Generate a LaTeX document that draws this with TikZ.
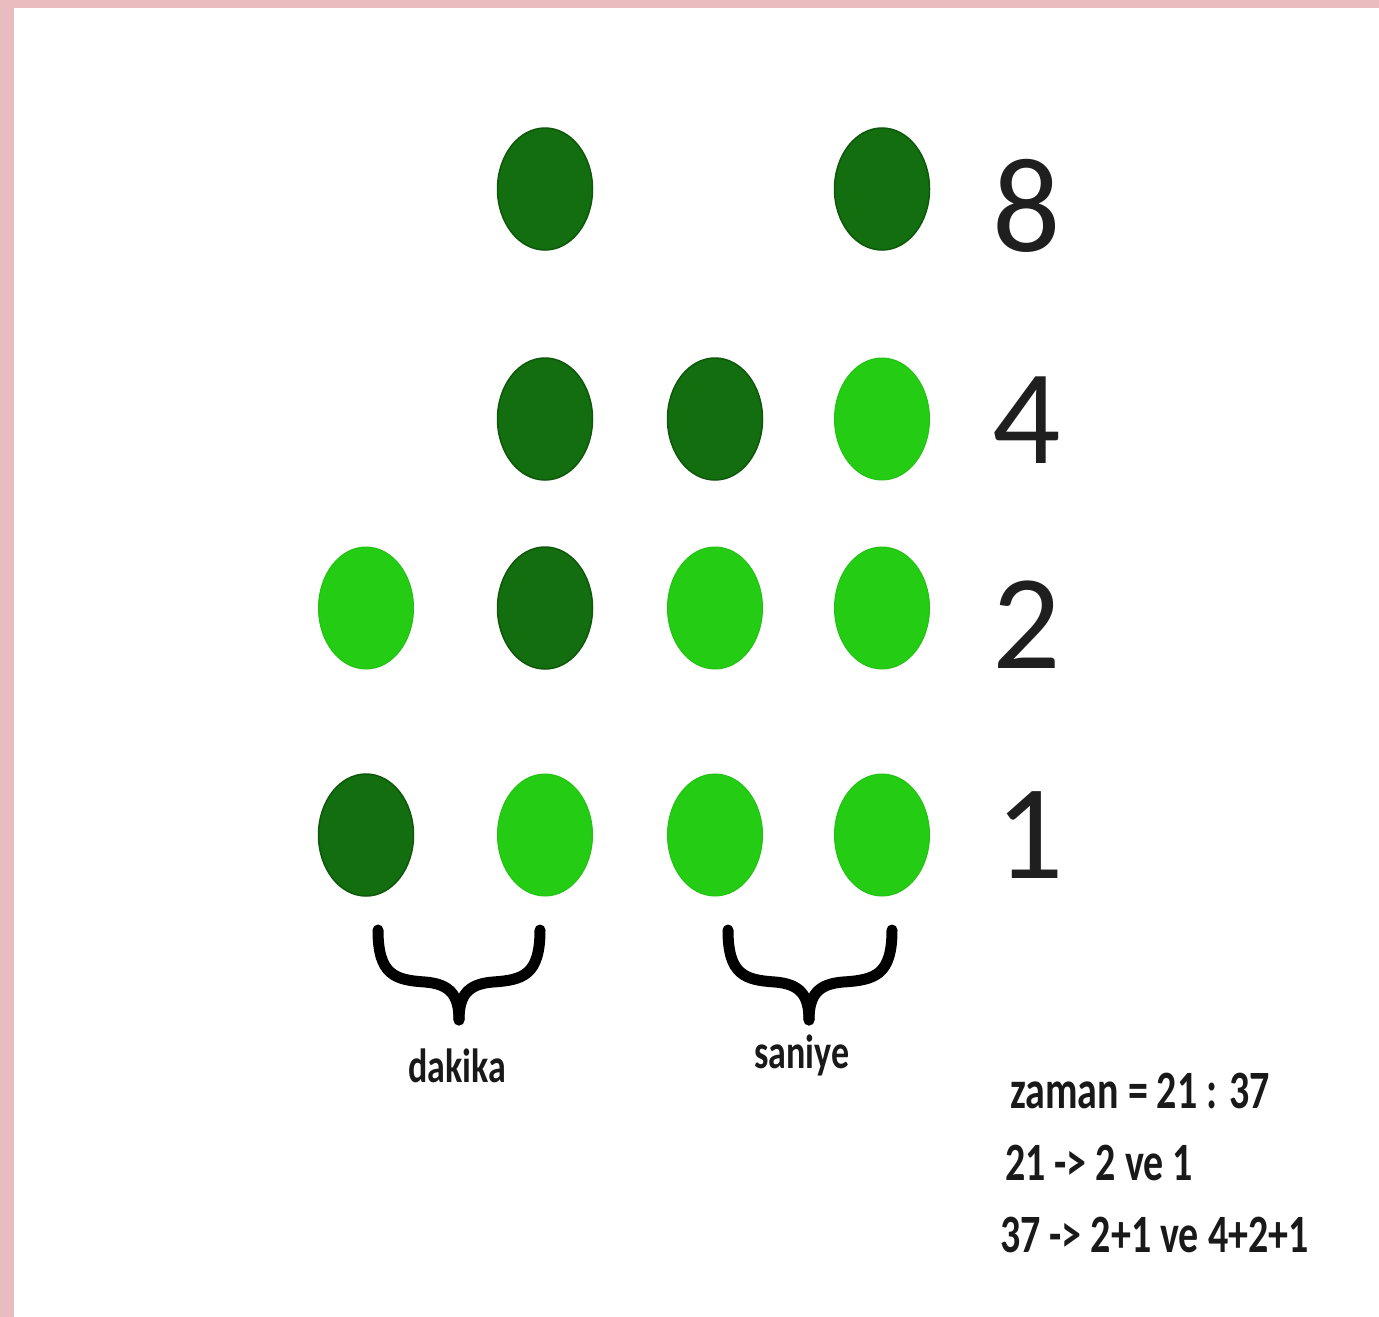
\documentclass[tikz,border=0pt]{standalone}
\usepackage{fontspec}
\setmainfont{Carlito}
\definecolor{pinkframe}{RGB}{233,188,192}
\definecolor{darkgreen}{RGB}{18,110,14}
\definecolor{lightgreen}{RGB}{36,204,20}
\tikzset{
  dot/.style={ellipse, minimum width=95pt, minimum height=122pt, inner sep=0pt},
  darkdot/.style={dot, fill=darkgreen, draw=darkgreen!80!black, line width=1.5pt},
  lightdot/.style={dot, fill=lightgreen, draw=lightgreen!95!black, line width=1pt},
  digit/.style={inner sep=0pt, font=\fontsize{135}{135}\selectfont, text=black!88},
  lbl/.style={inner sep=0pt, anchor=base, font=\bfseries\fontsize{48}{48}\selectfont, text=black!90},
  note/.style={inner sep=0pt, anchor=base west, font=\bfseries\fontsize{54}{54}\selectfont, text=black!90},
  bracestroke/.style={line width=11pt, line cap=round, line join=round, black}
}
\usetikzlibrary{shapes.geometric}
\begin{document}
\begin{tikzpicture}[x=1pt,y=1pt]
\useasboundingbox (0,0) rectangle (1379,-1317);
\fill[white] (0,0) rectangle (1379,-1317);
\fill[pinkframe] (0,0) rectangle (1379,-8);
\fill[pinkframe] (0,0) rectangle (14,-1317);
% row 8
\node[darkdot] (c82) at (545,-189) {};
\node[darkdot] (c84) at (882,-189) {};
% row 4
\node[darkdot] (c42) at (545,-419) {};
\node[darkdot] (c43) at (715,-419) {};
\node[lightdot] (c44) at (882,-419) {};
% row 2
\node[lightdot] (c21) at (366,-608) {};
\node[darkdot] (c22) at (545,-608) {};
\node[lightdot] (c23) at (715,-608) {};
\node[lightdot] (c24) at (882,-608) {};
% row 1
\node[darkdot] (c11) at (366,-835) {};
\node[lightdot] (c12) at (545,-835) {};
\node[lightdot] (c13) at (715,-835) {};
\node[lightdot] (c14) at (882,-835) {};
% digits
\node[digit] (d8) at (1027,-206) {8};
\node[digit] (d4) at (1027,-420) {4};
\node[digit] (d2) at (1027,-625) {2};
\node[digit] (d1) at (1030,-835) {1};
% braces
\draw[bracestroke] (378,-930) .. controls (378,-975) and (395,-980) .. (425,-982)
  .. controls (450,-984) and (459,-995) .. (459,-1020);
\draw[bracestroke] (540,-930) .. controls (540,-975) and (523,-980) .. (493,-982)
  .. controls (468,-984) and (459,-995) .. (459,-1020);
\draw[bracestroke] (728,-930) .. controls (728,-975) and (745,-980) .. (775,-982)
  .. controls (800,-984) and (809,-995) .. (809,-1020);
\draw[bracestroke] (892,-930) .. controls (892,-975) and (875,-980) .. (843,-982)
  .. controls (818,-984) and (809,-995) .. (809,-1020);
% labels
\node[lbl] (dak) at (457,-1082) {\scalebox{0.75}[1]{dakika}};
\node[lbl] (san) at (802,-1068) {\scalebox{0.75}[1]{saniye}};
\node[note] (z) at (1010,-1108) {\scalebox{0.74}[1]{zaman = 21 : 37}};
\node[note] (l2) at (1005,-1180) {\scalebox{0.74}[1]{21 -> 2 ve 1}};
\node[note] (l3) at (1000,-1252) {\scalebox{0.74}[1]{37 -> 2+1 ve 4+2+1}};
\end{tikzpicture}
\end{document}
